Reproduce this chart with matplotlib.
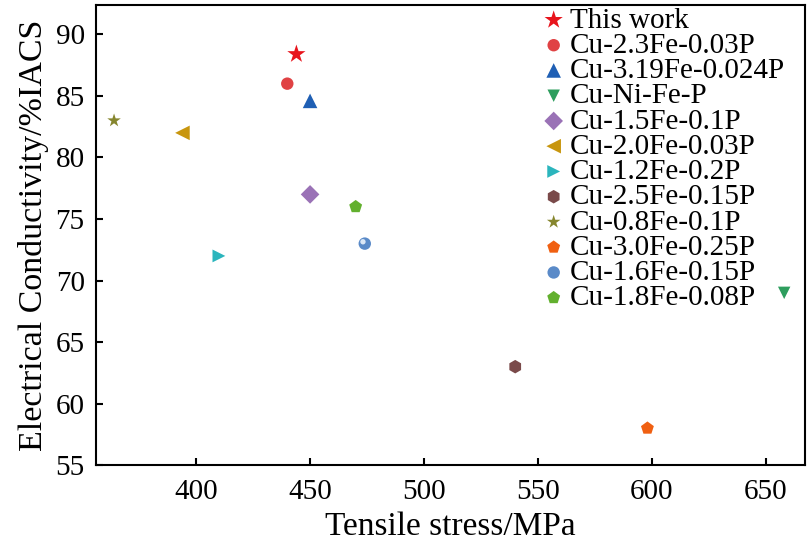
import matplotlib
matplotlib.use('Agg')
import matplotlib.pyplot as plt

plt.rcParams['font.family'] = ['Liberation Serif', 'DejaVu Serif']

labels = ['This work', 'Cu-2.3Fe-0.03P', 'Cu-3.19Fe-0.024P', 'Cu-Ni-Fe-P',
          'Cu-1.5Fe-0.1P', 'Cu-2.0Fe-0.03P', 'Cu-1.2Fe-0.2P', 'Cu-2.5Fe-0.15P',
          'Cu-0.8Fe-0.1P', 'Cu-3.0Fe-0.25P', 'Cu-1.6Fe-0.15P', 'Cu-1.8Fe-0.08P']
stress = [444, 440, 450, 658, 450, 394, 410, 540, 364, 598, 474, 470]
conductivity = [88.4, 86.0, 84.6, 69.0, 77.0, 82.0, 72.0, 63.0, 83.0, 58.0, 73.0, 76.0]

markers = ['*', 'o', '^', 'v', 'D', '<', '>', 'h', '*', 'p', 'o', 'p']
colors = ['#e8141c', '#e04244', '#1f5fb4', '#2e9e5e', '#9a72b6', '#c8960e',
          '#2bb5bd', '#7a4a4a', '#86862e', '#f06012', '#5a8ac8', '#62b02e']
sizes = [190, 80, 110, 80, 90, 110, 85, 95, 105, 95, 80, 95]

fig = plt.figure(figsize=(8.12, 5.44), dpi=100)
ax = fig.add_axes([0.118, 0.145, 0.873, 0.846])

for i in range(len(labels)):
    ax.scatter(stress[i], conductivity[i], marker=markers[i], s=sizes[i],
               color=colors[i], edgecolors='none', label=labels[i], zorder=3)
# highlight on the blue ball
ax.scatter(stress[10] - 0.8, conductivity[10] + 0.15, marker='o', s=15,
           color='#dbe7f6', edgecolors='none', zorder=4)

ax.set_xlim(356, 667)
ax.set_ylim(55, 92.4)
ax.set_xticks([400, 450, 500, 550, 600, 650])
ax.set_yticks([55, 60, 65, 70, 75, 80, 85, 90])
ax.tick_params(direction='in', length=5, width=1.5, labelsize=21)
ax.tick_params(axis='x', pad=10)
ax.tick_params(axis='y', pad=8)
for s in ax.spines.values():
    s.set_linewidth(1.5)

ax.set_xlabel('Tensile stress/MPa', fontsize=24, labelpad=5)
ax.set_ylabel('Electrical Conductivity/%IACS', fontsize=24.5, labelpad=5)

ax.legend(loc='upper right', frameon=False, fontsize=21, labelspacing=-0.04,
          handletextpad=0.25, handlelength=0.6, borderaxespad=0,
          borderpad=0, bbox_to_anchor=(0.972, 0.995))

fig.savefig('out.png', dpi=100)
